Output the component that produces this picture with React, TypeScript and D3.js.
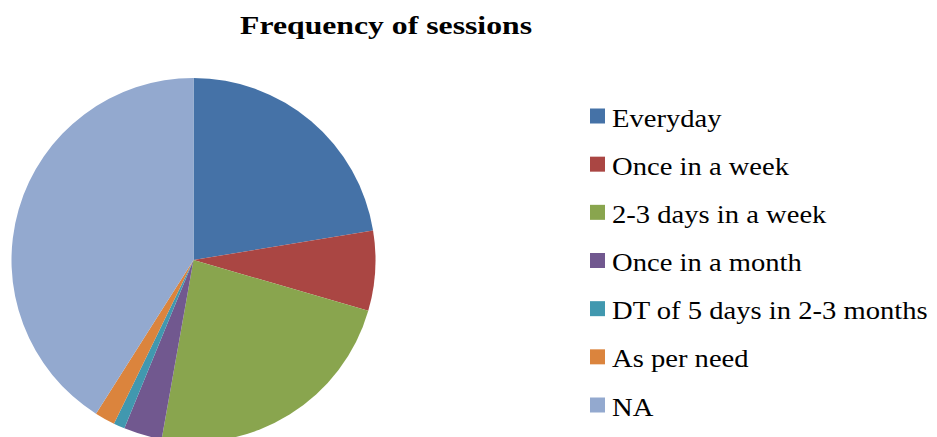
import React from "react";
import * as d3 from "d3";

// Share of respondents (%) by how often sessions are held
const categories = [
  "Everyday",
  "Once in a week",
  "2-3 days in a week",
  "Once in a month",
  "DT of 5 days in 2-3 months",
  "As per need",
  "NA",
];
const shares = [22.4, 7.1, 23.3, 3.4, 1.0, 1.8, 41.0];
const palette = ["#4572A7", "#AA4643", "#89A54E", "#71588F", "#4198AF", "#DB843D", "#93A9CF"];
const chartTitle = "Frequency of sessions";

const W = 937;
const H = 437;
const cx = 193.5;
const cy = 260;
const radius = 182;
const serif = "Liberation Serif";

type Row = { name: string; value: number; color: string };

export default function App() {
  const rows: Row[] = categories.map((name, i) => ({ name, value: shares[i], color: palette[i] }));
  const pie = d3
    .pie<Row>()
    .sort(null)
    .value((d) => d.value);
  const arc = d3.arc<d3.PieArcDatum<Row>>().innerRadius(0).outerRadius(radius);
  const slices = pie(rows);

  const legendY = d3.scalePoint<string>().domain(categories).range([116, 405]);

  return (
    <svg width={W} height={H} style={{ position: "absolute", left: 0, top: 0, background: "#fff" }}>
      <text
        transform={`translate(386,34) scale(1.22,1)`}
        textAnchor="middle"
        fontWeight="bold"
        fontSize={26}
        fill="#000"
        style={{ fontFamily: serif }}
      >
        {chartTitle}
      </text>
      <g transform={`translate(${cx},${cy})`}>
        {slices.map((s) => (
          <path key={s.data.name} d={arc(s) ?? ""} fill={s.data.color} />
        ))}
      </g>
      <g>
        {rows.map((r) => {
          const y = legendY(r.name) ?? 0;
          return (
            <g key={r.name}>
              <rect x={590} y={y - 7.5} width={15} height={15} fill={r.color} />
              <text
                transform={`translate(612,${y + 10.5}) scale(1.1,1)`}
                fontSize={26}
                fill="#000"
                style={{ fontFamily: serif }}
              >
                {r.name}
              </text>
            </g>
          );
        })}
      </g>
    </svg>
  );
}
